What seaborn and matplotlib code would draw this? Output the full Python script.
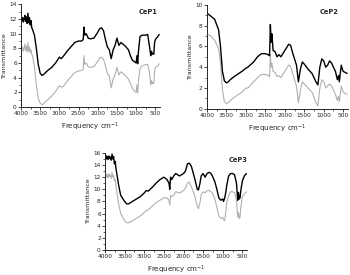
"""
FTIR spectra of CeP1, CeP2 and CeP3 samples (two traces per sample).
"""

import matplotlib
matplotlib.use("Agg")
import matplotlib.pyplot as plt
from matplotlib.ticker import MultipleLocator
import pandas as pd
import seaborn as sns

# ---- CeP1 ----
wave_p1 = [4000, 3980, 3960, 3940, 3920, 3900, 3880, 3860, 3840, 3820, 3800, 3780,
           3760, 3740, 3720, 3700, 3650, 3600, 3550, 3500, 3450, 3400, 3300, 3200,
           3100, 3000, 2950, 2900, 2800, 2700, 2600, 2500, 2420, 2380, 2360, 2340,
           2300, 2250, 2200, 2100, 2000, 1950, 1900, 1850, 1800, 1750, 1700, 1650,
           1600, 1550, 1500, 1450, 1400, 1350, 1300, 1250, 1200, 1150, 1100, 1050,
           1000, 980, 960, 940, 900, 850, 800, 750, 700, 650, 620, 600, 580, 560,
           540, 520, 500, 470, 440, 400]
p1_black = [12.0, 11.8, 12.2, 11.6, 12.0, 12.5, 11.7, 12.3, 11.4, 12.8, 11.5, 12.2,
            11.2, 11.8, 10.8, 10.6, 9.8, 8.0, 5.8, 4.6, 4.3, 4.5, 5.0, 5.4,
            6.0, 6.8, 6.6, 6.9, 7.6, 8.2, 8.8, 9.0, 9.0, 9.2, 10.9, 9.8,
            10.0, 9.4, 9.3, 9.4, 10.2, 10.7, 10.8, 10.4, 9.2, 8.2, 7.8, 6.6,
            7.8, 8.4, 9.4, 8.4, 8.8, 8.6, 8.4, 8.1, 7.8, 7.0, 6.4, 6.2,
            6.0, 7.0, 5.9, 7.6, 9.6, 9.8, 9.8, 9.8, 9.9, 8.2, 7.0, 7.6, 7.2, 7.3,
            7.2, 8.8, 9.2, 9.4, 9.6, 9.9]
p1_gray = [8.0, 7.8, 8.2, 7.6, 8.0, 8.6, 7.7, 8.3, 7.5, 8.8, 7.6, 8.2,
           7.4, 7.8, 7.2, 7.0, 5.5, 3.0, 1.2, 0.5, 0.3, 0.5, 1.0, 1.5,
           2.1, 2.9, 2.7, 2.8, 3.5, 4.1, 4.7, 4.9, 5.0, 5.1, 7.0, 5.8,
           6.0, 5.5, 5.4, 5.5, 6.2, 6.7, 6.8, 6.5, 5.6, 4.6, 4.2, 2.6,
           3.8, 4.4, 5.4, 4.4, 4.8, 4.6, 4.4, 4.1, 3.8, 3.2, 2.6, 2.2,
           2.0, 3.0, 1.9, 3.6, 5.2, 5.6, 5.7, 5.8, 5.8, 4.6, 3.0, 3.6, 3.2, 3.3,
           3.2, 4.8, 5.4, 5.5, 5.6, 5.9]

# ---- CeP2 ----
wave_p2 = [4000, 3900, 3800, 3700, 3650, 3600, 3550, 3500, 3450, 3400, 3300, 3100,
           3000, 2950, 2800, 2700, 2600, 2500, 2420, 2390, 2370, 2350, 2330, 2300,
           2250, 2200, 2150, 2100, 2000, 1900, 1850, 1800, 1700, 1650, 1600, 1550,
           1500, 1400, 1300, 1200, 1150, 1100, 1050, 1000, 950, 900, 850, 800,
           750, 700, 650, 620, 600, 570, 550, 520, 500, 450, 400]
p2_black = [9.2, 8.9, 8.6, 7.6, 6.0, 3.6, 2.7, 2.5, 2.6, 2.8, 3.1, 3.6,
            3.9, 4.0, 4.5, 5.0, 5.3, 5.3, 5.2, 5.1, 8.1, 6.4, 7.2, 5.6,
            5.5, 5.0, 5.2, 5.0, 5.6, 6.2, 6.1, 5.4, 4.2, 2.6, 3.8, 4.5,
            4.3, 3.8, 3.4, 2.6, 2.3, 4.0, 4.8, 4.6, 4.0, 4.2, 4.6, 4.4,
            4.0, 3.6, 2.8, 3.2, 2.6, 3.6, 4.2, 3.8, 3.6, 3.5, 3.4]
p2_gray = [7.2, 7.0, 6.6, 5.8, 4.5, 1.8, 0.7, 0.5, 0.6, 0.8, 1.1, 1.6,
           2.0, 2.0, 2.6, 3.0, 3.3, 3.3, 3.2, 3.1, 5.2, 4.0, 4.4, 3.6,
           3.5, 3.1, 3.2, 3.0, 3.6, 4.2, 4.1, 3.4, 2.2, 0.6, 1.8, 2.6,
           2.4, 2.0, 1.6, 0.6, 0.3, 2.0, 2.8, 2.6, 2.0, 2.2, 2.4, 2.2,
           1.8, 1.4, 0.8, 1.2, 0.7, 1.6, 2.2, 1.8, 1.6, 1.5, 1.4]

# ---- CeP3 ----
wave_p3 = [4000, 3980, 3960, 3940, 3920, 3900, 3880, 3860, 3840, 3820, 3800, 3780,
           3760, 3740, 3720, 3700, 3650, 3600, 3500, 3450, 3400, 3300, 3100, 3000,
           2950, 2900, 2800, 2700, 2600, 2500, 2420, 2370, 2350, 2330, 2300, 2250,
           2200, 2150, 2100, 2050, 2000, 1950, 1900, 1850, 1800, 1750, 1700, 1650,
           1620, 1580, 1550, 1500, 1450, 1400, 1350, 1300, 1250, 1200, 1150, 1100,
           1050, 1000, 980, 950, 920, 900, 850, 800, 750, 700, 650, 620, 600, 580,
           560, 540, 500, 450, 400]
p3_black = [15.2, 15.6, 15.0, 15.4, 14.9, 15.5, 15.1, 15.3, 14.8, 15.8, 15.0, 15.4,
            14.2, 14.6, 13.4, 12.6, 10.6, 9.0, 8.0, 7.6, 7.6, 8.0, 8.8, 9.4,
            9.8, 9.7, 10.3, 11.0, 11.6, 12.0, 11.6, 11.0, 10.0, 12.0, 11.6, 12.2,
            12.6, 12.4, 12.2, 12.4, 12.6, 13.0, 14.2, 14.3, 13.8, 12.6, 11.4, 10.0,
            9.9, 11.0, 12.2, 12.6, 12.0, 12.6, 12.8, 12.6, 12.0, 11.2, 10.0, 8.6,
            8.2, 8.4, 8.0, 8.6, 9.6, 10.6, 12.2, 12.6, 12.6, 12.4, 11.0, 8.2, 9.5, 8.4,
            8.6, 9.8, 11.4, 12.2, 12.6]
p3_gray = [12.2, 12.6, 12.0, 12.4, 11.9, 12.6, 12.1, 12.3, 11.8, 12.8, 12.0, 12.3,
           11.4, 11.6, 10.6, 9.6, 7.5, 6.0, 4.8, 4.5, 4.5, 4.8, 5.6, 6.2,
           6.5, 6.6, 7.2, 7.8, 8.2, 8.6, 8.6, 8.2, 7.4, 9.0, 8.8, 9.0,
           9.6, 9.5, 9.4, 9.6, 9.8, 10.2, 11.0, 11.2, 10.4, 9.6, 8.6, 7.2,
           6.8, 7.8, 9.0, 9.6, 9.4, 9.8, 9.8, 9.6, 9.2, 8.4, 7.0, 5.6,
           5.2, 5.4, 5.0, 4.8, 6.5, 7.8, 9.0, 9.6, 9.6, 9.4, 8.2, 5.4, 6.2, 5.2,
           5.4, 7.0, 8.8, 9.2, 9.6]

x_ticks = [4000, 3500, 3000, 2500, 2000, 1500, 1000, 500]

sns.set_style("ticks")
plt.rcParams['font.family'] = ['DejaVu Sans']

fig = plt.figure(figsize=(3.5, 2.75), dpi=100)

panels = [
    ("CeP1", wave_p1, p1_black, p1_gray, 14, [0.060, 0.611, 0.397, 0.373], 0.985),
    ("CeP2", wave_p2, p2_black, p2_gray, 10, [0.591, 0.604, 0.403, 0.379], 0.93),
    ("CeP3", wave_p3, p3_black, p3_gray, 16, [0.300, 0.091, 0.406, 0.353], 1.0),
]

for name, wave, black, gray, ymax, rect, tx in panels:
    ax = fig.add_axes(rect)
    df = pd.DataFrame({'wave': wave, 'black': black, 'gray': gray})
    sns.lineplot(data=df, x='wave', y='gray', ax=ax, color='#b0b0b0', lw=0.8)
    sns.lineplot(data=df, x='wave', y='black', ax=ax, color='black', lw=1.0)

    ax.set_xlim(4000, 380)
    ax.set_ylim(0, ymax)
    ax.set_xticks(x_ticks)
    ax.set_xticklabels([str(t) for t in x_ticks])
    ax.xaxis.set_minor_locator(MultipleLocator(250))
    ax.yaxis.set_major_locator(MultipleLocator(2))
    ax.yaxis.set_minor_locator(MultipleLocator(1))
    ax.tick_params(which='major', length=2, width=0.6, labelsize=4.2, pad=1)
    ax.tick_params(which='minor', length=1.2, width=0.5)
    for s in ['left', 'bottom']:
        ax.spines[s].set_linewidth(0.7)
    sns.despine(ax=ax)

    ax.set_xlabel("Frequency cm$^{-1}$", fontsize=5, labelpad=3)
    ax.set_ylabel("Transmittance", fontsize=4.6, labelpad=1.5)
    ax.text(tx, 0.96, name, transform=ax.transAxes, ha='right', va='top',
            fontsize=4.8, fontweight='bold')

fig.savefig("out.png", dpi=100)
